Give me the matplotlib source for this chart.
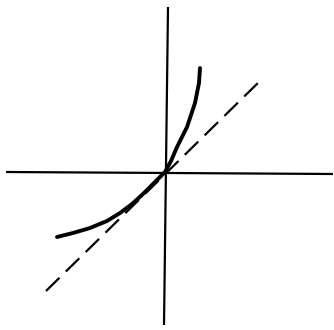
import numpy as np
import matplotlib
matplotlib.use("Agg")
import matplotlib.pyplot as plt

# curve (axes cross at 0,0)
curve_x = [-1.08, -1.00, -0.92, -0.75, -0.58, -0.45, -0.33, -0.22, -0.13, 0.0,
           0.06, 0.12, 0.22, 0.30, 0.34, 0.35]
curve_y = [-0.65, -0.63, -0.61, -0.56, -0.49, -0.41, -0.32, -0.22, -0.13, 0.0,
           0.11, 0.25, 0.45, 0.69, 0.89, 1.04]

# dashed tangent line
tan_x = [-1.19, 0.96]
tan_y = [-1.19, 0.92]

# hand drawn axes
vaxis_x = [0.03, -0.01]
vaxis_y = [1.65, -1.53]
haxis_x = [-1.59, 1.68]
haxis_y = [0.0, -0.02]

fig = plt.figure(figsize=(3.34, 3.30), dpi=100)
ax = fig.add_axes([0, 0, 1, 1])

ax.plot(vaxis_x, vaxis_y, color='black', lw=1.6, solid_capstyle='butt')
ax.plot(haxis_x, haxis_y, color='black', lw=1.6, solid_capstyle='butt')
ax.plot(tan_x, tan_y, color='black', lw=1.6, dashes=(8.5, 4))
ax.plot(curve_x, curve_y, color='black', lw=2.8,
        solid_capstyle='round', solid_joinstyle='round')

ax.set_xlim(-1.65, 1.69)
ax.set_ylim(-1.58, 1.72)
ax.axis('off')

fig.savefig('out.png', dpi=100, facecolor='white')
